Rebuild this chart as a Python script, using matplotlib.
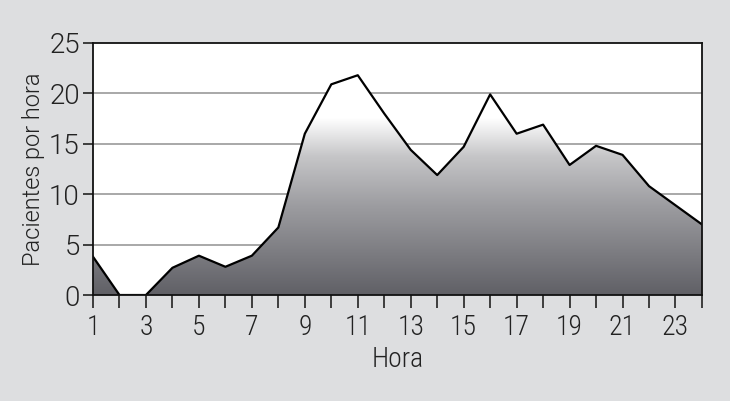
import numpy as np
import matplotlib.pyplot as plt
from matplotlib.colors import LinearSegmentedColormap

horas = list(range(1, 25))
pacientes = [3.8, 0, 0, 2.7, 3.9, 2.8, 3.9, 6.7, 16.0, 20.9, 21.8, 18.0,
             14.4, 11.9, 14.7, 19.9, 16.0, 16.9, 12.9, 14.8, 13.9, 10.8, 8.9, 7.0]
y_ticks = [0, 5, 10, 15, 20, 25]
x_labels = [1, 3, 5, 7, 9, 11, 13, 15, 17, 19, 21, 23]

bg = '#dddee0'
fig = plt.figure(figsize=(7.3, 4.01), dpi=100, facecolor=bg)
ax = fig.add_axes([0.1274, 0.2643, 0.8342, 0.6285])
ax.set_facecolor('white')

ax.set_xlim(1, 24)
ax.set_ylim(0, 25)

# gradient fill clipped to the area under the line
cmap = LinearSegmentedColormap.from_list(
    'g', [(0.0, '#606066'), (0.35, '#9c9ca0'), (0.55, '#c6c6c8'), (0.7, '#ffffff'), (1.0, '#ffffff')])
grad = np.linspace(0, 1, 256).reshape(-1, 1)
poly = ax.fill_between(horas, pacientes, 0, facecolor='none', edgecolor='none')
im = ax.imshow(grad, cmap=cmap, origin='lower', aspect='auto',
               extent=[1, 24, 0, 25], zorder=1)
im.set_clip_path(poly.get_paths()[0], transform=ax.transData)

for v in y_ticks[1:-1]:
    ax.axhline(v, color='#999999', lw=1.2, zorder=0.5)

ax.plot(horas, pacientes, color='black', lw=1.6, zorder=3)

for s in ax.spines.values():
    s.set_color('#111111')
    s.set_linewidth(1.3)
    s.set_zorder(4)

ax.set_yticks(y_ticks)
ax.set_xticks(horas)
ax.set_xticklabels([str(h) if h in x_labels else '' for h in horas])
ax.tick_params(axis='y', length=7.5, width=1.2, direction='out', pad=2,
               labelsize=20, colors='#222222')
ax.tick_params(axis='x', length=9, width=1.2, direction='out', pad=5,
               labelsize=20, colors='#222222')
for t in ax.get_xticklabels():
    t.set_fontfamily('Roboto Condensed')
    t.set_fontweight(300)
for t in ax.get_yticklabels():
    t.set_fontfamily('Roboto')
    t.set_fontweight(300)

ax.set_xlabel('Hora', fontsize=20, family='Roboto Condensed', fontweight=300,
              color='#222222', labelpad=3)
ax.set_ylabel('Pacientes por hora', fontsize=17, family='Roboto', fontweight=300,
              color='#222222', labelpad=3)

fig.savefig('out.png', dpi=100, facecolor=bg)
